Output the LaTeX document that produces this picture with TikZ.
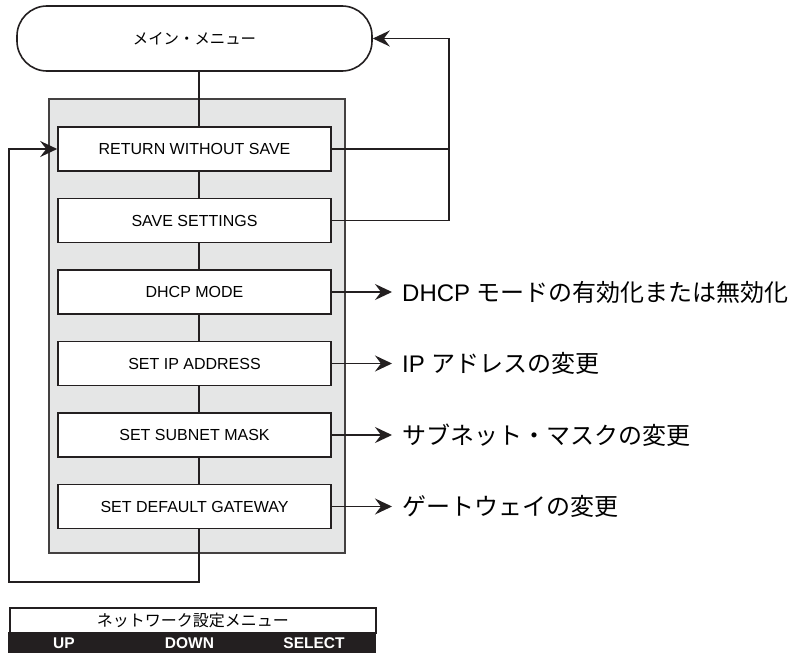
\documentclass[tikz,border=0pt]{standalone}
\usepackage{fontspec}
\setmainfont{Liberation Sans}
\newfontfamily\jp{Noto Sans CJK JP}
\usetikzlibrary{arrows.meta}
\definecolor{panelgray}{RGB}{229,230,230}
\definecolor{ink}{RGB}{35,31,32}
\begin{document}
\begin{tikzpicture}[x=1pt,y=-1pt,
  menubox/.style={draw=ink, line width=1.6pt, fill=white, minimum width=273pt, minimum height=44pt, inner sep=0pt, font=\fontsize{16}{17}\selectfont},
  conn/.style={line width=1.4pt, draw=ink},
  arr/.style={conn, -{Stealth[length=17pt,width=16pt,inset=6pt]}},
  lbl/.style={anchor=west, inner xsep=10pt, inner ysep=0pt, font=\fontsize{24}{25}\selectfont},
  barlbl/.style={text=white, font=\bfseries\fontsize{15.5}{16}\selectfont, inner sep=0pt}
]
\useasboundingbox (0,0) rectangle (792,653);

\node[draw=ink, line width=1.6pt, rounded corners=30pt, minimum width=355pt, minimum height=65pt, inner sep=0pt, font=\jp\fontsize{15.4}{16}\selectfont] (main) at (194.5,38.5) {メイン・メニュー};

\node[fill=panelgray, draw=ink!85, line width=1.6pt, minimum width=296pt, minimum height=454pt, inner sep=0pt] (panel) at (197,326) {};

\node[menubox] (b1) at (194.5,149) {RETURN WITHOUT SAVE};
\node[menubox] (b2) at (194.5,220.5) {SAVE SETTINGS};
\node[menubox] (b3) at (194.5,292) {DHCP MODE};
\node[menubox] (b4) at (194.5,363.5) {SET IP ADDRESS};
\node[menubox] (b5) at (194.5,435) {SET SUBNET MASK};
\node[menubox] (b6) at (194.5,506.5) {SET DEFAULT GATEWAY};

\coordinate (spine) at (199,0);
\coordinate (rx) at (449,0);
\coordinate (lb) at (9,582);

\draw[conn] (main.south -| spine) -- (b1.north -| spine);
\draw[conn] (b1.south -| spine) -- (b2.north -| spine);
\draw[conn] (b2.south -| spine) -- (b3.north -| spine);
\draw[conn] (b3.south -| spine) -- (b4.north -| spine);
\draw[conn] (b4.south -| spine) -- (b5.north -| spine);
\draw[conn] (b5.south -| spine) -- (b6.north -| spine);

\draw[arr] (b6.south -| spine) |- (lb) |- (b1.west);
\draw[conn] (b1.east) -- (b1.east -| rx);
\draw[arr] (b2.east) -| (rx |- main.east) -- (main.east);

\node[lbl] (l3) at (392,292) {DHCP {\jp モードの有効化または無効化}};
\node[lbl] (l4) at (392,363.5) {IP {\jp アドレスの変更}};
\node[lbl] (l5) at (392,435) {\jp サブネット・マスクの変更};
\node[lbl] (l6) at (392,506.5) {\jp ゲートウェイの変更};
\draw[arr] (b3.east) -- (l3.west);
\draw[arr] (b4.east) -- (l4.west);
\draw[arr] (b5.east) -- (l5.west);
\draw[arr] (b6.east) -- (l6.west);

\node[draw=ink, line width=1.5pt, minimum width=366pt, minimum height=25.5pt, inner sep=0pt, anchor=north west, font=\jp\fontsize{16}{17}\selectfont] (title) at (9,607) {ネットワーク設定メニュー};
\node[fill=ink, minimum width=367.5pt, minimum height=21pt, inner sep=0pt, anchor=north west] (bar) at (8.25,632) {};
\node[barlbl] (up) at (64,643) {UP};
\node[barlbl] (down) at (189.5,643) {DOWN};
\node[barlbl] (sel) at (314,643) {SELECT};
\end{tikzpicture}
\end{document}
